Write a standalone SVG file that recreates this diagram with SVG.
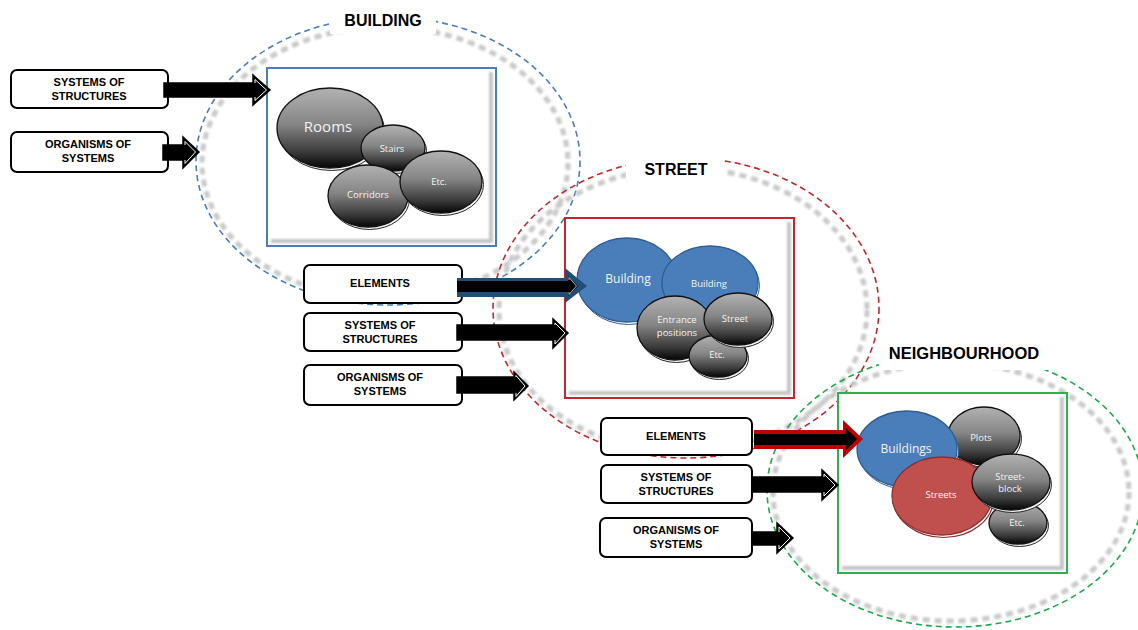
<svg xmlns="http://www.w3.org/2000/svg" width="1138" height="630" viewBox="0 0 1138 630">
  <style>
    .lbl { font-family: "Liberation Sans", Arial, sans-serif; font-weight: bold; fill: #000; text-anchor: middle; }
    .box { fill: #fff; stroke: #000; stroke-width: 2; }
    .btxt { font-family: "Liberation Sans", Arial, sans-serif; font-weight: bold; font-size: 11px; fill: #000; text-anchor: middle; }
    .etxt { font-family: "Open Sans", "Liberation Sans", sans-serif; fill: #f2f2f2; text-anchor: middle; }
    .arr { fill: #000; stroke: #000; stroke-width: 1.5; stroke-linejoin: miter; }
    .hl { fill: none; stroke: #fff; stroke-width: 1; }
    .ring { fill: none; stroke-width: 1.6; stroke-dasharray: 6 4; }
    .shade { fill: none; stroke: #c9c9c9; stroke-width: 5; stroke-dasharray: 7 5; filter: url(#soft); }
    .sph { fill: url(#grey); stroke: #111; stroke-width: 1.3; }
    .lip { fill: #f2f2f2; stroke: #2a2a2a; stroke-width: 1; }
    .blue { fill: #4a7ebb; stroke: #2e5c94; stroke-width: 1.3; }
    .bluelip { fill: #fff; stroke: #2e5c94; stroke-width: 1; }
    .red { fill: #c0504d; stroke: #8c2f2c; stroke-width: 1.3; }
    .redlip { fill: #fff; stroke: #8c2f2c; stroke-width: 1.2; }
    .frame-shadow { fill: none; stroke: #c4c4c4; stroke-width: 4; filter: url(#soft); }
  </style>
  <defs>
    <linearGradient id="grey" x1="0" y1="0" x2="0" y2="1">
      <stop offset="0" stop-color="#b2b2b2"/>
      <stop offset="0.45" stop-color="#858585"/>
      <stop offset="0.8" stop-color="#3a3a3a"/>
      <stop offset="1" stop-color="#050505"/>
    </linearGradient>
    <filter id="soft" x="-10%" y="-10%" width="120%" height="120%">
      <feGaussianBlur stdDeviation="1.3"/>
    </filter>
  </defs>

  <rect width="1138" height="630" fill="#fff"/>

  <!-- scale rings -->
  <g id="rings">
    <ellipse class="shade" cx="385" cy="163" rx="183" ry="136"/>
    <ellipse class="ring" cx="388" cy="161" rx="192" ry="144" stroke="#4a7ebb"/>
    <ellipse class="shade" cx="683" cy="310" rx="184" ry="142"/>
    <ellipse class="ring" cx="686" cy="308" rx="193" ry="150" stroke="#c0282d"/>
    <ellipse class="shade" cx="951" cy="492" rx="178" ry="129"/>
    <ellipse class="ring" cx="955" cy="490" rx="188" ry="137" stroke="#1fa847"/>
    <!-- clear the rings behind the titles -->
    <rect x="330" y="4" width="106" height="30" fill="#fff"/>
    <rect x="626" y="152" width="98" height="32" fill="#fff"/>
    <rect x="879" y="336" width="172" height="34" fill="#fff"/>
  </g>

  <!-- BUILDING -->
  <g id="building">
    <text class="lbl" x="383" y="26" font-size="16">BUILDING</text>
    <rect x="267" y="68" width="229" height="178" fill="#fff"/>
    <path class="frame-shadow" d="M 491 72 V 241 H 271"/>
    <rect x="267" y="68" width="229" height="178" fill="none" stroke="#4a7ebb" stroke-width="2"/>
    <ellipse class="lip" cx="331.5" cy="130.5" rx="53" ry="40"/>
    <ellipse class="sph" cx="330" cy="128" rx="53" ry="40"/>
    <ellipse class="lip" cx="394.5" cy="150.5" rx="32" ry="23"/>
    <ellipse class="sph" cx="393" cy="148" rx="32" ry="23"/>
    <ellipse class="lip" cx="369.5" cy="198.5" rx="40" ry="31"/>
    <ellipse class="sph" cx="368" cy="196" rx="40" ry="31"/>
    <ellipse class="lip" cx="442.5" cy="184.5" rx="41" ry="31"/>
    <ellipse class="sph" cx="441" cy="182" rx="41" ry="31"/>
    <text class="etxt" x="328" y="132" font-size="15">Rooms</text>
    <text class="etxt" x="392" y="152" font-size="9.5">Stairs</text>
    <text class="etxt" x="368" y="198" font-size="9.5">Corridors</text>
    <text class="etxt" x="439" y="185" font-size="9.5">Etc.</text>
  </g>

  <!-- STREET -->
  <g id="street">
    <text class="lbl" x="676" y="175" font-size="16">STREET</text>
    <rect x="565" y="218" width="229" height="180" fill="#fff"/>
    <path class="frame-shadow" d="M 789 222 V 393 H 569"/>
    <rect x="565" y="218" width="229" height="180" fill="none" stroke="#c0282d" stroke-width="2"/>
    <ellipse class="bluelip" cx="628.5" cy="282.5" rx="50" ry="42"/>
    <ellipse class="blue" cx="627" cy="280" rx="50" ry="42"/>
    <ellipse class="bluelip" cx="711.5" cy="285.5" rx="48" ry="37"/>
    <ellipse class="blue" cx="710" cy="283" rx="48" ry="37"/>
    <ellipse class="lip" cx="676.5" cy="330.5" rx="38" ry="32"/>
    <ellipse class="sph" cx="675" cy="328" rx="38" ry="32"/>
    <ellipse class="lip" cx="719.5" cy="358.5" rx="29" ry="21"/>
    <ellipse class="sph" cx="718" cy="356" rx="29" ry="21"/>
    <ellipse class="lip" cx="739.5" cy="321.5" rx="34" ry="26"/>
    <ellipse class="sph" cx="738" cy="319" rx="34" ry="26"/>
    <text class="etxt" x="628" y="283" font-size="12">Building</text>
    <text class="etxt" x="709" y="287" font-size="9.5">Building</text>
    <text class="etxt" x="677" y="323" font-size="9.5">Entrance</text>
    <text class="etxt" x="677" y="336" font-size="9.5">positions</text>
    <text class="etxt" x="735" y="322" font-size="9.5">Street</text>
    <text class="etxt" x="717" y="358" font-size="9.5">Etc.</text>
  </g>

  <!-- NEIGHBOURHOOD -->
  <g id="neighbourhood">
    <text class="lbl" x="964" y="359" font-size="16.5">NEIGHBOURHOOD</text>
    <rect x="838" y="393" width="229" height="180" fill="#fff"/>
    <path class="frame-shadow" d="M 1062 397 V 568 H 842"/>
    <rect x="838" y="393" width="229" height="180" fill="none" stroke="#2eb050" stroke-width="2"/>
    <ellipse class="lip" cx="985.5" cy="438.5" rx="36" ry="29"/>
    <ellipse class="sph" cx="984" cy="436" rx="36" ry="29"/>
    <ellipse class="bluelip" cx="908.5" cy="451.5" rx="50" ry="38"/>
    <ellipse class="blue" cx="907" cy="449" rx="50" ry="38"/>
    <ellipse class="redlip" cx="943.5" cy="498.5" rx="50" ry="39"/>
    <ellipse class="red" cx="942" cy="496" rx="50" ry="39"/>
    <ellipse class="lip" cx="1019.5" cy="525.5" rx="29" ry="21"/>
    <ellipse class="sph" cx="1018" cy="523" rx="29" ry="21"/>
    <ellipse class="lip" cx="1012.5" cy="484.5" rx="39" ry="28"/>
    <ellipse class="sph" cx="1011" cy="482" rx="39" ry="28"/>
    <text class="etxt" x="906" y="453" font-size="12">Buildings</text>
    <text class="etxt" x="981" y="441" font-size="9.5">Plots</text>
    <text class="etxt" x="941" y="498" font-size="9.5">Streets</text>
    <text class="etxt" x="1010" y="480" font-size="9.5">Street-</text>
    <text class="etxt" x="1010" y="492" font-size="9.5">block</text>
    <text class="etxt" x="1017" y="526" font-size="9.5">Etc.</text>
  </g>

  <!-- category boxes -->
  <g id="box-sys-building">
    <rect class="box" x="11" y="70" width="157" height="38" rx="6"/>
    <text class="btxt" x="89" y="86">SYSTEMS OF</text>
    <text class="btxt" x="89" y="100">STRUCTURES</text>
  </g>
  <g id="box-org-building">
    <rect class="box" x="11" y="132" width="157" height="40" rx="6"/>
    <text class="btxt" x="88" y="148">ORGANISMS OF</text>
    <text class="btxt" x="88" y="162">SYSTEMS</text>
  </g>
  <g id="box-el-street">
    <rect class="box" x="304" y="265" width="158" height="38" rx="6"/>
    <text class="btxt" x="380" y="287">ELEMENTS</text>
  </g>
  <g id="box-sys-street">
    <rect class="box" x="304" y="313" width="158" height="38" rx="6"/>
    <text class="btxt" x="380" y="329">SYSTEMS OF</text>
    <text class="btxt" x="380" y="343">STRUCTURES</text>
  </g>
  <g id="box-org-street">
    <rect class="box" x="304" y="365" width="158" height="40" rx="6"/>
    <text class="btxt" x="380" y="381">ORGANISMS OF</text>
    <text class="btxt" x="380" y="395">SYSTEMS</text>
  </g>
  <g id="box-el-neighbourhood">
    <rect class="box" x="601" y="418" width="151" height="37" rx="6"/>
    <text class="btxt" x="676" y="440">ELEMENTS</text>
  </g>
  <g id="box-sys-neighbourhood">
    <rect class="box" x="601" y="465" width="151" height="38" rx="6"/>
    <text class="btxt" x="676" y="481">SYSTEMS OF</text>
    <text class="btxt" x="676" y="495">STRUCTURES</text>
  </g>
  <g id="box-org-neighbourhood">
    <rect class="box" x="600" y="518" width="152" height="39" rx="6"/>
    <text class="btxt" x="676" y="534">ORGANISMS OF</text>
    <text class="btxt" x="676" y="548">SYSTEMS</text>
  </g>

  <!-- connectors -->
  <g id="connectors">
    <!-- building -->
    <polygon class="arr" points="164,83 253,83 253,75 270,90 253,105 253,97 164,97"/>
    <polyline class="hl" points="255,83 255,79.5 266.5,90 255,100.5 255,97"/>
    <polygon class="arr" points="163,145 183,145 183,137 199,152 183,168 183,160 163,160"/>
    <polyline class="hl" points="185,145 185,141.5 195.5,152 185,163.5 185,160"/>
    <!-- street -->
    <polygon points="457,278 565,278 565,268 587,286 565,303 565,297 457,297" fill="#1f4e79"/>
    <polygon points="457,281 568,281 568,276 578,286 568,296 568,292 457,292" fill="#000"/>
    <polyline class="hl" points="569,280 569,277.5 576.5,286 569,294.5 569,292" opacity="0.7"/>
    <polygon class="arr" points="457,325 553,325 553,319 568,333 553,348 553,340 457,340"/>
    <polyline class="hl" points="555,325 555,323 565,333 555,344 555,340"/>
    <polygon class="arr" points="457,377 514,377 514,372 528,386 514,400 514,393 457,393"/>
    <polyline class="hl" points="516,377 516,375.5 525,386 516,396.5 516,393"/>
    <!-- neighbourhood -->
    <polygon points="754,430 843,430 843,420 863,439 843,458 843,449 754,449" fill="#c00000"/>
    <polygon points="754,434 846,434 846,428 857,439 846,450 846,445 754,445" fill="#000"/>
    <polygon class="arr" points="752,477 822,477 822,470 838,485 822,500 822,492 752,492"/>
    <polyline class="hl" points="824,477 824,474 835,485 824,496 824,492"/>
    <polygon class="arr" points="752,532 777,532 777,523 793,538 777,553 777,545 752,545"/>
    <polyline class="hl" points="779,532 779,527 790,538 779,549 779,545"/>
  </g>
</svg>
